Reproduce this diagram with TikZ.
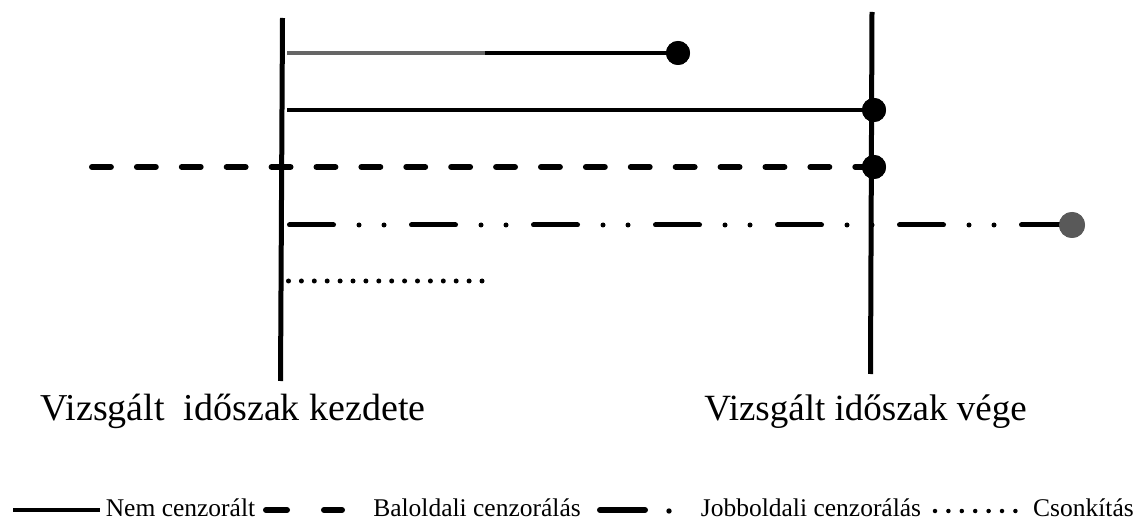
\documentclass[tikz,border=0pt]{standalone}
\usepackage{fontspec}
\setmainfont{Liberation Serif}
\begin{document}
\begin{tikzpicture}[x=1pt,y=-1pt,
  axis/.style={line width=5pt,black},
  solidrow/.style={line width=3.5pt,black},
  dashrow/.style={line width=6pt,black,line cap=round,dash pattern=on 18.9pt off 26pt},
  dashdotrow/.style={line width=5pt,black,line cap=round,dash pattern=on 44pt off 25.5pt on 0pt off 25pt on 0pt off 27.5pt},
  dotrow/.style={line width=5pt,black,line cap=round,dash pattern=on 0pt off 12.9pt},
  enddot/.style={circle,fill=black,inner sep=0pt,minimum size=24pt},
  greydot/.style={circle,fill=black!65,inner sep=0pt,minimum size=26pt},
  biglabel/.style={font=\fontsize{38}{40}\selectfont,anchor=base,inner sep=0pt},
  leglabel/.style={font=\fontsize{25.5}{27}\selectfont,anchor=base,inner sep=0pt}]
\useasboundingbox (0,0) rectangle (1138,521);
% axes
\coordinate (a1t) at (282.5,18);
\coordinate (a1b) at (280.5,381);
\coordinate (a2t) at (872,12);
\coordinate (a2b) at (870.5,374);
\draw[axis] (a1t) -- (a1b);
\draw[axis] (a2t) -- (a2b);
% row 1
\coordinate (r1s) at (287,53);
\coordinate (r1m) at (485,53);
\node[enddot] (d1) at (678,53) {};
\draw[solidrow,black!60] (r1s) -- (r1m);
\draw[solidrow] (r1m) -- (d1.center);
\node[enddot] at (d1) {};
% row 2
\coordinate (r2s) at (287,110);
\node[enddot] (d2) at (874,110) {};
\draw[solidrow] (r2s) -- (d2.center);
\node[enddot] at (d2) {};
% row 3
\coordinate (r3s) at (92,167);
\node[enddot] (d3) at (874,167) {};
\draw[dashrow] (r3s) -- (d3.center);
\node[enddot] at (d3) {};
% row 4
\coordinate (r4s) at (289.5,225);
\node[greydot] (d4) at (1072,225) {};
\draw[dashdotrow] (r4s) -- (d4.center);
\node[greydot] at (d4) {};
% row 5
\coordinate (r5s) at (288.5,281);
\coordinate (r5e) at (485,281);
\draw[dotrow] (r5s) -- (r5e);
% labels
\node[biglabel] (lab1) at (233,420) {Vizsgált\ \ időszak kezdete};
\node[biglabel,font=\fontsize{37}{39}\selectfont] (lab2) at (865.5,420) {Vizsgált időszak vége};
% legend
\coordinate (l1a) at (13,510);
\coordinate (l1b) at (100,510);
\draw[line width=4pt] (l1a) -- (l1b);
\node[leglabel] (t1) at (180.5,516) {Nem cenzorált};
\coordinate (l2a) at (266,510);
\coordinate (l2b) at (287,510);
\coordinate (l2c) at (324,510);
\coordinate (l2d) at (342,510);
\draw[line width=6pt,line cap=round] (l2a) -- (l2b) (l2c) -- (l2d);
\node[leglabel] (t2) at (477,516) {Baloldali cenzorálás};
\coordinate (l3a) at (600,510);
\coordinate (l3b) at (645,510);
\coordinate (l3c) at (669,511);
\draw[line width=6pt,line cap=round] (l3a) -- (l3b);
\fill (l3c) circle (2.7pt);
\node[leglabel] (t3) at (811,516) {Jobboldali cenzorálás};
\coordinate (l4a) at (935,511);
\coordinate (l4b) at (1016,511);
\draw[line width=4.5pt,line cap=round,dash pattern=on 0pt off 13.4pt] (l4a) -- (l4b);
\node[leglabel] (t4) at (1083.5,516) {Csonkítás};
\end{tikzpicture}
\end{document}
